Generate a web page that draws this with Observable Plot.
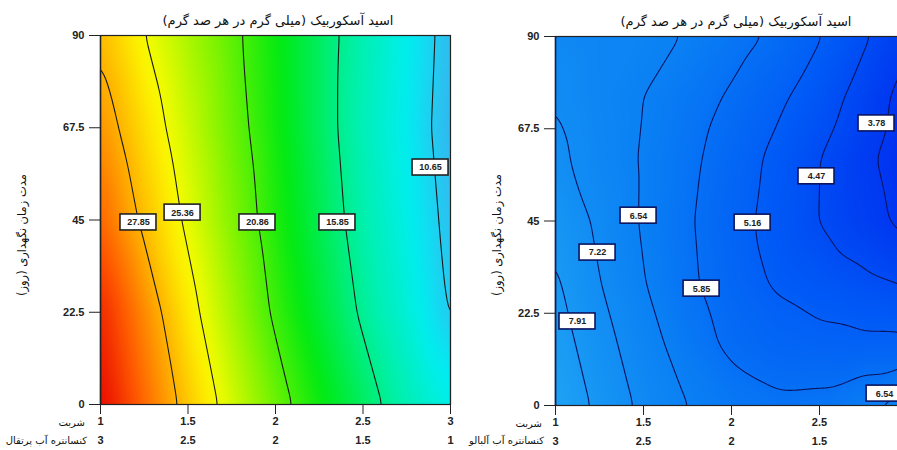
<!DOCTYPE html>
<html><head><meta charset="utf-8">
<script src="https://cdn.jsdelivr.net/npm/d3@7"></script>
<script src="https://cdn.jsdelivr.net/npm/@observablehq/plot@0.6"></script>
<style>
body{margin:0;background:#fff;}
#wrap{position:relative;width:897px;height:450px;overflow:hidden;background:#fff;}
#wrap svg{position:absolute;top:0;overflow:visible;}
.fa{position:absolute;font-family:"DejaVu Sans",sans-serif;color:#111;white-space:nowrap;direction:rtl;line-height:16px;}
.title{font-size:13px;transform:translateX(-50%);}
.ylab{font-size:11.5px;transform:translate(-50%,-50%) rotate(-90deg);}
.row{font-size:10px;transform:translateX(-100%);}
</style></head><body><div id="wrap"></div>
<script>
// axis ticks
const xTicks = [1, 1.5, 2, 2.5, 3];
const yTicks = [0, 22.5, 45, 67.5, 90];

// grid columns (شربت level) shared by both surfaces
const gridX = [1, 1.25, 1.5, 1.75, 2, 2.25, 2.5, 2.75, 3];

// orange concentrate surface (rows = storage days)
const orangeY = [0, 22.5, 45, 67.5, 90];
const orangeValues = [
  [32.6, 29.9, 27.2, 24.5, 21.8, 19.3, 16.9, 14.5, 12.3],
  [31.7, 29.0, 26.1, 23.3, 20.5, 18.0, 15.5, 13.1, 10.4],
  [30.0, 27.5, 25.0, 22.4, 19.8, 17.3, 14.8, 12.4, 10.0],
  [28.8, 26.5, 24.2, 21.8, 19.4, 16.9, 14.4, 12.0, 9.6],
  [27.6, 25.4, 23.4, 21.4, 19.2, 16.9, 14.6, 12.2, 9.8]
];
const orangeLevels = [10.65, 15.85, 20.86, 25.36, 27.85];
const orangeLabelLevel = [27.85, 25.36, 20.86, 15.85, 10.65];
const orangeLabelX = [1.217, 1.469, 1.897, 2.354, 2.886];
const orangeLabelY = [44.4, 46.8, 44.4, 44.4, 57.8];

// sour cherry concentrate surface
const cherryY = [0, 15, 30, 45, 60, 75, 90];
const cherryValues = [
  [8.5, 7.75, 7.06, 6.54, 6.2, 6.0, 6.05, 6.4, 6.9],
  [8.25, 7.5, 6.82, 6.23, 5.69, 5.45, 5.35, 5.3, 5.3],
  [8.02, 7.24, 6.57, 5.98, 5.49, 5.09, 4.85, 4.62, 4.4],
  [7.8, 7.07, 6.47, 5.93, 5.42, 4.93, 4.46, 4.03, 3.6],
  [7.37, 6.92, 6.48, 6.01, 5.52, 5.01, 4.48, 3.94, 3.4],
  [7.2, 6.85, 6.54, 6.16, 5.76, 5.31, 4.81, 4.20, 3.5],
  [7.0, 6.84, 6.75, 6.5, 6.12, 5.73, 5.20, 4.57, 3.94]
];
const cherryLevels = [3.78, 4.47, 5.16, 5.85, 6.54, 7.22, 7.91];
const cherryLabelLevel = [7.91, 7.22, 6.54, 5.85, 5.16, 4.47, 3.78, 6.54];
const cherryLabelX = [1.125, 1.239, 1.472, 1.83, 2.12, 2.483, 2.824, 2.87];
const cherryLabelY = [20.5, 37.3, 46.3, 28.5, 44.6, 55.9, 68.8, 2.9];

// shared colour ramp (low = blue, high = red)
const colorDomain = [3.5, 5.0, 6.5, 8.5, 10, 12, 15, 19, 22.5, 25.5, 28.3, 30.3, 32.6];
const colorRange = ["#0030f0", "#005af6", "#0a80f4", "#1ea2f4", "#30bef0", "#00eef2", "#00f0a8", "#00ea10", "#88f400", "#fcfc00", "#ffa400", "#ff5800", "#e80800"];

const titleText = "اسید آسکوربیک (میلی گرم در هر صد گرم)";
const yLabelText = "مدت زمان نگهداری (روز)";

function gridPoints(rowsY, values) {
  const pts = [];
  rowsY.forEach((y, j) => gridX.forEach((x, i) => pts.push({x, y, v: values[j][i]})));
  return pts;
}
function labelRows(levels, xs, ys) {
  return levels.map((l, i) => ({x: xs[i], y: ys[i], t: l.toFixed(2)}));
}
function boxed(stroke) {
  return function(index, scales, values, dimensions, context, next) {
    const g = next(index, scales, values, dimensions, context);
    const ns = "http://www.w3.org/2000/svg";
    const wrap = document.createElementNS(ns, "g");
    for (const i of index) {
      const r = document.createElementNS(ns, "rect");
      r.setAttribute("x", values.x[i] - 18);
      r.setAttribute("y", values.y[i] - 8);
      r.setAttribute("width", 36);
      r.setAttribute("height", 16);
      r.setAttribute("fill", "#fff");
      r.setAttribute("stroke", stroke);
      r.setAttribute("stroke-width", 1.6);
      wrap.appendChild(r);
    }
    wrap.appendChild(g);
    return wrap;
  };
}

const fmt = d => String(d);

function makePlot(rowsY, values, levels, labels, lineColor, boxStroke, opts) {
  const pts = gridPoints(rowsY, values);
  return Plot.plot({
    width: opts.width, height: 450,
    marginLeft: 100, marginTop: opts.top, marginRight: opts.right, marginBottom: 450 - opts.top - 369,
    style: {fontFamily: "Liberation Sans, Arial, sans-serif", fontSize: "11px", background: "transparent", color: "#222"},
    x: {domain: [1, 3], label: null},
    y: {domain: [0, 90], label: null},
    color: {type: "linear", domain: colorDomain, range: colorRange, interpolate: "rgb"},
    marks: [
      Plot.raster(pts, {x: "x", y: "y", fill: "v", interpolate: "barycentric", blur: 6}),
      Plot.contour(pts, {x: "x", y: "y", value: "v", interpolate: "barycentric", blur: 6, thresholds: levels, stroke: lineColor, strokeWidth: 1.1, fill: "none", pixelSize: 1}),
      Plot.frame({stroke: "#222", strokeWidth: 1.2}),
      Plot.text(labels, {x: "x", y: "y", text: "t", fontWeight: "bold", fontSize: 9, fill: "#222", render: boxed(boxStroke)}),
      Plot.axisX(xTicks, {tickSize: 10, tickPadding: 3, tickFormat: fmt, fontWeight: "bold", fontSize: 11, label: null}),
      Plot.axisX(xTicks, {tickSize: 0, tickPadding: 32, tickFormat: d => String(4 - d), fontWeight: "bold", fontSize: 11, label: null}),
      Plot.axisY(yTicks, {tickSize: 11, tickPadding: 5, tickFormat: fmt, fontWeight: "bold", fontSize: 11, label: null})
    ]
  });
}

const wrap = document.getElementById("wrap");
const left = makePlot(orangeY, orangeValues, orangeLevels, labelRows(orangeLabelLevel, orangeLabelX, orangeLabelY), "#1a1a1a", "#222", {width: 455, top: 35, right: 5});
left.style.left = "0px";
wrap.appendChild(left);
const right = makePlot(cherryY, cherryValues, cherryLevels, labelRows(cherryLabelLevel, cherryLabelX, cherryLabelY), "#0a1460", "#0a1460", {width: 462, top: 36, right: 10});
right.style.left = "455px";
wrap.appendChild(right);

function addText(cls, text, x, y) {
  const d = document.createElement("div");
  d.className = "fa " + cls;
  d.textContent = text;
  d.style.left = x + "px";
  d.style.top = y + "px";
  wrap.appendChild(d);
}
addText("title", titleText, 278, 13);
addText("title", titleText, 736, 14);
addText("ylab", yLabelText, 22, 235);
addText("ylab", yLabelText, 497, 235);
addText("row", "شربت", 85, 415);
addText("row", "کنسانتره آب پرتقال", 87, 433);
addText("row", "شربت", 542, 416);
addText("row", "کنسانتره آب آلبالو", 544, 433);
</script></body></html>
